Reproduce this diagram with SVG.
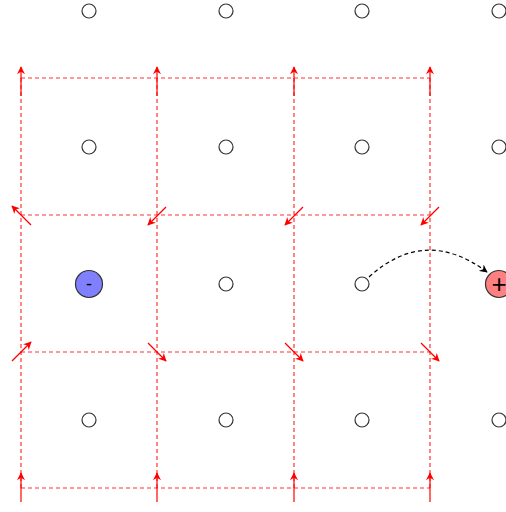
<svg xmlns="http://www.w3.org/2000/svg" width="506" height="512" viewBox="0 0 506 512">
<style>
.grid{stroke:#ff0000;stroke-opacity:0.8;stroke-width:1.2;stroke-dasharray:4 3;fill:none}
.arr{stroke:#ff0000;stroke-width:1.2;fill:none;marker-end:url(#ra)}
.site{fill:#fff;stroke:#333;stroke-width:1.2}
.lbl{font-family:"Liberation Sans",Arial,sans-serif;text-anchor:middle;fill:#000}
</style>
<defs>
<marker id="ra" viewBox="0 0 10 10" refX="9" refY="5" markerWidth="8" markerHeight="8" markerUnits="userSpaceOnUse" orient="auto">
<path d="M0,0 L10,5 L0,10 L3,5 Z" fill="#ff0000"/>
</marker>
<marker id="ba" viewBox="0 0 10 10" refX="9" refY="5" markerWidth="8" markerHeight="8" markerUnits="userSpaceOnUse" orient="auto">
<path d="M0,0 L10,5 L0,10 L3,5 Z" fill="#000"/>
</marker>
</defs>
<g id="grid-lines">
<path class="grid" d="M21,78H430M21,215H430M21,352H430M21,488H430"/>
<path class="grid" d="M21,78V488M157,78V488M294,78V488M430,78V488"/>
</g>
<g id="connectors">
<path class="arr" d="M21,96V67"/><path class="arr" d="M157,96V67"/><path class="arr" d="M294,96V67"/><path class="arr" d="M430,96V67"/>
<path class="arr" d="M21,502V473"/><path class="arr" d="M157,502V473"/><path class="arr" d="M294,502V473"/><path class="arr" d="M430,502V473"/>
<path class="arr" d="M31,225L12,206"/>
<path class="arr" d="M166,207L148,225"/><path class="arr" d="M303,207L285,225"/><path class="arr" d="M439,207L421,225"/>
<path class="arr" d="M12,361L31,342"/>
<path class="arr" d="M148,343L166,361"/><path class="arr" d="M285,343L303,361"/><path class="arr" d="M421,343L439,361"/>
<path d="M369,277Q425,226 487,272" fill="none" stroke="#000" stroke-width="1.2" stroke-dasharray="4 3" marker-end="url(#ba)"/>
</g>
<g id="sites">
<circle class="site" cx="89" cy="11" r="7"/><circle class="site" cx="226" cy="11" r="7"/><circle class="site" cx="362" cy="11" r="7"/><circle class="site" cx="499" cy="11" r="7"/>
<circle class="site" cx="89" cy="147" r="7"/><circle class="site" cx="226" cy="147" r="7"/><circle class="site" cx="362" cy="147" r="7"/><circle class="site" cx="499" cy="147" r="7"/>
<circle class="site" cx="226" cy="284" r="7"/><circle class="site" cx="362" cy="284" r="7"/>
<circle class="site" cx="89" cy="420" r="7"/><circle class="site" cx="226" cy="420" r="7"/><circle class="site" cx="362" cy="420" r="7"/><circle class="site" cx="499" cy="420" r="7"/>
</g>
<g id="minus">
<circle cx="89" cy="284" r="13.5" fill="#8080ff" stroke="#333" stroke-width="1.2"/>
<text class="lbl" x="89" y="290" font-size="18">-</text>
</g>
<g id="plus">
<circle cx="499" cy="284" r="13.5" fill="#ff8080" stroke="#333" stroke-width="1.2"/>
<text class="lbl" x="499" y="293" font-size="26">+</text>
</g>
</svg>
